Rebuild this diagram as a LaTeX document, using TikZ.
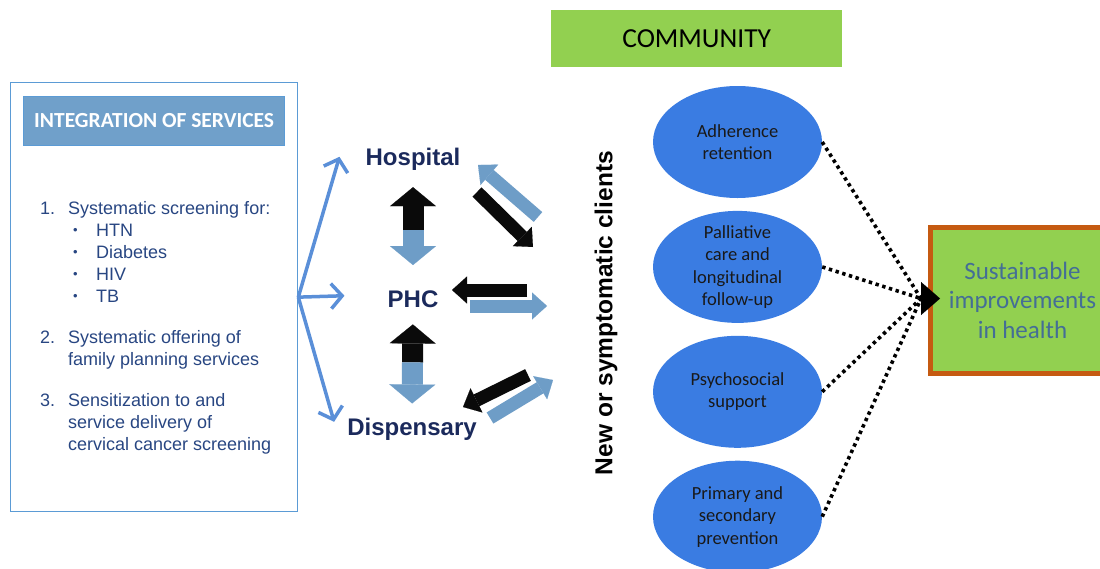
\documentclass[tikz,border=0pt]{standalone}
\usepackage{fontspec}
\setmainfont{Liberation Sans}
\newfontfamily\calib{Carlito}
\usetikzlibrary{shapes.geometric,positioning,arrows.meta,calc,shadows}
\definecolor{lnblue}{RGB}{91,155,213}
\definecolor{hdblue}{RGB}{112,160,202}
\definecolor{lsblue}{RGB}{40,70,130}
\definecolor{navy}{RGB}{27,42,92}
\definecolor{arblue}{RGB}{90,143,216}
\definecolor{blkblue}{RGB}{110,157,199}
\definecolor{blk}{RGB}{10,10,10}
\definecolor{ellblue}{RGB}{58,124,226}
\definecolor{lgreen}{RGB}{146,208,80}
\definecolor{orng}{RGB}{197,90,17}
\definecolor{susblue}{RGB}{68,110,150}
\newcommand{\bul}{\raisebox{1.5pt}{\fontsize{13}{13}\selectfont\textbullet}}

\begin{document}
\begin{tikzpicture}[
      x=1pt, y=-1pt,
      fac/.style = {font=\fontsize{24}{28}\selectfont\bfseries, text=navy, inner sep=0pt},
      lst/.style = {align=left, font=\fontsize{18}{22}\selectfont, text=lsblue, inner sep=0pt},
      ell/.style = {ellipse, fill=ellblue, minimum width=169pt, minimum height=112pt, inner sep=0pt},
      etxt/.style = {align=center, font=\calib\fontsize{18.5}{22.5}\selectfont, text=black!90},
      thinarr/.style = {draw=arblue, line width=3.5pt, -{Straight Barb[length=11pt,width=25pt]}},
      blkarr/.style = {line width=21pt, -{Triangle[length=19pt,width=46pt,line width=0.1pt]}},
      flatarr/.style = {line width=13pt, -{Triangle[length=15pt,width=27pt,line width=0.1pt]}},
      dotln/.style = {line width=3.6pt, dash pattern=on 3.4pt off 3.6pt}
      ]
      \useasboundingbox (0,0) rectangle (1100,568);

      \node[draw=lnblue, line width=1.3pt, minimum width=287pt, minimum height=429pt, inner sep=0pt, anchor=north west] (intg) at (10,82) {};
      \node[fill=hdblue, draw=lnblue, minimum width=261pt, minimum height=49pt, text=white,
            font=\calib\bfseries\fontsize{21.5}{24}\selectfont, below=14pt of intg.north] (hdr) {INTEGRATION OF SERVICES};
      \node[lst, anchor=north west] (lst) at (40,201) {%
        \makebox[28pt][l]{1.}Systematic screening for:\\
        \hspace*{33pt}\makebox[23pt][l]{\bul}HTN\\
        \hspace*{33pt}\makebox[23pt][l]{\bul}Diabetes\\
        \hspace*{33pt}\makebox[23pt][l]{\bul}HIV\\
        \hspace*{33pt}\makebox[23pt][l]{\bul}TB\\[19pt]
        \makebox[28pt][l]{2.}Systematic offering of\\
        \hspace*{28pt}family planning services\\[19pt]
        \makebox[28pt][l]{3.}Sensitization to and\\
        \hspace*{28pt}service delivery of\\
        \hspace*{28pt}cervical cancer screening};

      \node[fac, anchor=base] (hosp) at (413,165) {Hospital};
      \node[fac, anchor=base] (phc) at (413,307) {PHC};
      \node[fac, anchor=base] (disp) at (412,435) {Dispensary};

      \draw[thinarr] (intg.east) -- ([xshift=-26pt,yshift=2pt]hosp.west);
      \draw[thinarr] (intg.east) -- ([xshift=-43pt,yshift=3pt]phc.west);
      \draw[thinarr] (intg.east) -- ([xshift=-13pt,yshift=7pt]disp.west);

      \coordinate (hp) at ($(hosp.south)!0.5!(phc.north)$);
      \coordinate (pd) at ($(phc.south)!0.5!(disp.north)$);
      \draw[blkarr, blk, shorten >=17pt] (hp) -- (hosp.south);
      \draw[blkarr, blkblue, shorten >=25pt] (hp) -- (phc.north);
      \draw[blkarr, blk, shorten >=17pt] (pd) -- (phc.south);
      \draw[blkarr, blkblue, shorten >=14pt] (pd) -- (disp.north);

      \coordinate (h1) at (477,192);  \coordinate (h2) at (533,247);
      \coordinate (h3) at (538,217);  \coordinate (h4) at (478,165);
      \coordinate (p1) at (527,290);  \coordinate (p2) at (452,290);
      \coordinate (p3) at (470,306);  \coordinate (p4) at (547,306);
      \coordinate (d1) at (528,375);  \coordinate (d2) at (463,407);
      \coordinate (d3) at (490,418);  \coordinate (d4) at (553,380);
      \draw[flatarr, blkblue] (h3) -- (h4);
      \draw[flatarr, blk] (h1) -- (h2);
      \draw[flatarr, blk] (p1) -- (p2);
      \draw[flatarr, blkblue] (p3) -- (p4);
      \draw[flatarr, blk] (d1) -- (d2);
      \draw[flatarr, blkblue] (d3) -- (d4);

      \node[font=\bfseries\fontsize{24.5}{28}\selectfont, rotate=90] (cli) at (606,313) {New or symptomatic clients};

      \node[fill=lgreen, minimum width=291pt, minimum height=57pt, anchor=north west,
            font=\calib\fontsize{27.5}{30}\selectfont] (comm) at (551,10) {COMMUNITY};

      \node[ell, label={[etxt]center:{Adherence\\retention}}] (adh) at (737.5,142) {};
      \node[ell, below=12.5pt of adh, label={[etxt]center:{Palliative\\care and\\longitudinal\\follow-up}}] (pal) {};
      \node[ell, below=12.5pt of pal, label={[etxt]center:{Psychosocial\\support}}] (psy) {};
      \node[ell, below=12.5pt of psy, label={[etxt]center:{Primary and\\secondary\\prevention}}] (prev) {};

      \node[fill=lgreen, draw=orng, line width=5pt, minimum width=185pt, minimum height=146pt, anchor=north west,
            drop shadow={shadow xshift=2pt, shadow yshift=-3pt, opacity=0.2},
            align=center, text=susblue, font=\calib\fontsize{25}{29.5}\selectfont] (sus) at (927.5,224.5)
            {Sustainable\\improvements\\in health};

      \coordinate (hub) at ([xshift=-6.5pt,yshift=1.5pt]sus.west);
      \coordinate (tipc) at ([xshift=12.5pt,yshift=1.5pt]sus.west);
      \foreach \e in {adh,pal,psy,prev}
        \draw[dotln] (\e.east) -- (hub);
      \draw[line width=1pt, -{Triangle[length=19pt,width=33pt,line width=0.1pt]}] (hub) -- (tipc);
    \end{tikzpicture}
\end{document}
